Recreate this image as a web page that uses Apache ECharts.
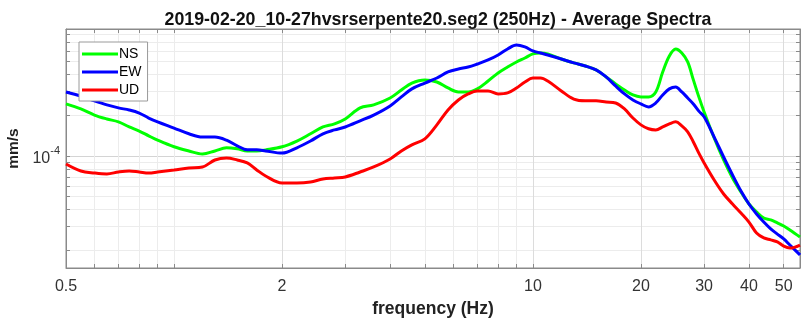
<!DOCTYPE html>
<html>
<head>
<meta charset="utf-8">
<script src="https://cdn.jsdelivr.net/npm/echarts@6/dist/echarts.min.js"></script>
<style>
  html, body { margin: 0; padding: 0; background: #fff; }
  #chart { width: 801px; height: 320px; }
</style>
</head>
<body>
<div id="chart"></div>
<script>
// frequencies (Hz) shared by the three spectra
const freq = [0.5, 0.55, 0.6, 0.65, 0.7, 0.75, 0.8, 0.85, 0.9, 1.0, 1.1, 1.2, 1.3, 1.4, 1.5, 1.6, 1.7, 1.8,
  2.0, 2.2, 2.4, 2.6, 2.8, 3.0, 3.3, 3.6, 4.0, 4.3, 4.6, 5.0, 5.4, 5.8, 6.2, 6.6, 7.0, 7.5, 8, 8.5, 9, 9.5,
  10, 10.5, 11, 12, 13, 14, 15, 16, 17, 18, 19, 20, 21, 22, 23, 24, 25, 26, 27, 28, 29,
  30, 32, 34, 36, 38, 40, 42, 44, 46, 48, 50, 52, 55.5];

// mm/s
const ns = [2.43e-4, 2.23e-4, 2.01e-4, 1.88e-4, 1.79e-4, 1.64e-4, 1.53e-4, 1.41e-4, 1.31e-4, 1.17e-4, 1.09e-4, 1.035e-4,
  1.09e-4, 1.15e-4, 1.13e-4, 1.09e-4, 1.09e-4, 1.11e-4, 1.17e-4, 1.29e-4, 1.46e-4, 1.64e-4, 1.73e-4, 1.88e-4,
  2.27e-4, 2.39e-4, 2.69e-4, 3.08e-4, 3.47e-4, 3.66e-4, 3.53e-4, 3.19e-4, 2.98e-4, 2.98e-4, 3.14e-4, 3.59e-4,
  4.12e-4, 4.56e-4, 4.97e-4, 5.32e-4, 5.70e-4, 5.79e-4, 5.70e-4, 5.23e-4, 4.89e-4, 4.64e-4, 4.34e-4, 3.85e-4,
  3.42e-4, 3.08e-4, 2.83e-4, 2.74e-4, 2.74e-4, 2.98e-4, 4.19e-4, 5.51e-4, 6.20e-4, 5.79e-4, 4.97e-4, 3.66e-4,
  2.74e-4, 2.12e-4, 1.36e-4, 0.934e-4, 0.687e-4, 0.541e-4, 0.441e-4, 0.385e-4, 0.347e-4, 0.336e-4, 0.319e-4,
  0.303e-4, 0.283e-4, 0.251e-4];
const ew = [2.98e-4, 2.78e-4, 2.56e-4, 2.39e-4, 2.27e-4, 2.19e-4, 2.08e-4, 1.91e-4, 1.79e-4, 1.61e-4, 1.46e-4, 1.38e-4,
  1.38e-4, 1.31e-4, 1.19e-4, 1.11e-4, 1.11e-4, 1.09e-4, 1.05e-4, 1.15e-4, 1.29e-4, 1.46e-4, 1.56e-4, 1.64e-4,
  1.82e-4, 2.01e-4, 2.35e-4, 2.74e-4, 3.14e-4, 3.47e-4, 3.78e-4, 4.19e-4, 4.41e-4, 4.56e-4, 4.80e-4, 5.14e-4,
  5.60e-4, 6.20e-4, 6.64e-4, 6.42e-4, 6.00e-4, 5.79e-4, 5.60e-4, 5.23e-4, 4.89e-4, 4.64e-4, 4.34e-4, 3.85e-4,
  3.30e-4, 2.88e-4, 2.60e-4, 2.43e-4, 2.31e-4, 2.47e-4, 2.83e-4, 3.14e-4, 3.24e-4, 2.98e-4, 2.69e-4, 2.43e-4,
  2.15e-4, 1.95e-4, 1.38e-4, 0.983e-4, 0.723e-4, 0.550e-4, 0.441e-4, 0.372e-4, 0.324e-4, 0.288e-4, 0.264e-4,
  0.243e-4, 0.219e-4, 0.185e-4];
const ud = [0.872e-4, 0.774e-4, 0.748e-4, 0.736e-4, 0.761e-4, 0.774e-4, 0.761e-4, 0.748e-4, 0.761e-4, 0.788e-4, 0.815e-4, 0.829e-4,
  0.934e-4, 0.966e-4, 0.934e-4, 0.888e-4, 0.788e-4, 0.711e-4, 0.631e-4, 0.631e-4, 0.642e-4, 0.675e-4, 0.687e-4, 0.699e-4,
  0.761e-4, 0.829e-4, 0.950e-4, 1.09e-4, 1.21e-4, 1.34e-4, 1.70e-4, 2.19e-4, 2.60e-4, 2.88e-4, 3.03e-4, 3.03e-4,
  2.88e-4, 2.93e-4, 3.19e-4, 3.53e-4, 3.78e-4, 3.78e-4, 3.59e-4, 3.03e-4, 2.64e-4, 2.56e-4, 2.56e-4, 2.51e-4,
  2.47e-4, 2.23e-4, 1.91e-4, 1.70e-4, 1.59e-4, 1.56e-4, 1.64e-4, 1.73e-4, 1.79e-4, 1.67e-4, 1.51e-4, 1.27e-4,
  1.05e-4, 0.888e-4, 0.664e-4, 0.523e-4, 0.441e-4, 0.378e-4, 0.324e-4, 0.269e-4, 0.247e-4, 0.239e-4, 0.231e-4,
  0.215e-4, 0.208e-4, 0.219e-4];

// axis ticks
const xTickLabels = [0.5, 2, 10, 20, 30, 40, 50];
const xGridTicks = [0.5, 0.6, 0.7, 0.8, 0.9, 1, 2, 3, 4, 5, 6, 7, 8, 9, 10, 20, 30, 40, 50];
const yTickLabels = [1e-4];
const yGridTicks = [2e-5, 3e-5, 4e-5, 5e-5, 6e-5, 7e-5, 8e-5, 9e-5, 1e-4, 2e-4, 3e-4, 4e-4, 5e-4, 6e-4, 7e-4, 8e-4];

const FONT = '"Liberation Sans", Arial, sans-serif';
const AXIS_COLOR = '#8a8a8a';

function pairs(vals) {
    return freq.map((f, i) => [f, vals[i]]);
}

const xBase = { type: 'log', logBase: 10, min: 0.5, max: 55.5 };
const yBase = { type: 'log', logBase: 10, min: 1.48e-5, max: 8.72e-4 };

const chart = echarts.init(document.getElementById('chart'), null, { renderer: 'canvas' });
chart.setOption({
    animation: false,
    backgroundColor: '#fff',
    title: {
        text: '2019-02-20_10-27hvsrserpente20.seg2 (250Hz) - Average Spectra',
        left: 433, top: 6, textAlign: 'center',
        textStyle: { fontFamily: FONT, fontSize: 17.8, fontWeight: 'bold', color: '#111' }
    },
    grid: { left: 66, right: 1, top: 29, bottom: 52, show: true, borderColor: AXIS_COLOR, borderWidth: 1,
        outerBoundsMode: 'none', containLabel: false },
    legend: {
        orient: 'vertical', left: 79, top: 42,
        padding: [5, 6, 4, 3], itemGap: 4, itemWidth: 36, itemHeight: 3, icon: 'rect',
        backgroundColor: '#fff', borderColor: '#9a9a9a', borderWidth: 1, borderRadius: 0,
        textStyle: { fontFamily: FONT, fontSize: 14, color: '#000', padding: [0, 0, 0, -4] },
        data: ['NS', 'EW', 'UD']
    },
    xAxis: [
        Object.assign({}, xBase, {
            position: 'bottom',
            name: 'frequency (Hz)', nameLocation: 'middle', nameGap: 32,
            nameTextStyle: { fontFamily: FONT, fontSize: 17.5, fontWeight: 'bold', color: '#222' },
            axisLine: { show: true, lineStyle: { color: AXIS_COLOR } },
            axisTick: { show: true, inside: true, length: 4, customValues: xGridTicks, lineStyle: { color: AXIS_COLOR } },
            axisLabel: { customValues: xTickLabels, margin: 11, fontFamily: FONT, fontSize: 16, color: '#333',
                formatter: v => String(v) },
            splitLine: { show: true, lineStyle: { color: '#ececec', width: 1 } }
        }),
        Object.assign({}, xBase, {
            position: 'top',
            axisLine: { show: true, lineStyle: { color: AXIS_COLOR } },
            axisTick: { show: true, inside: true, length: 4, customValues: xGridTicks, lineStyle: { color: AXIS_COLOR } },
            axisLabel: { show: false },
            splitLine: { show: false }
        }),
        Object.assign({}, xBase, {
            position: 'bottom',
            axisLine: { show: false },
            axisTick: { show: false, customValues: xTickLabels },
            axisLabel: { show: false },
            splitLine: { show: true, lineStyle: { color: '#dcdcdc', width: 1 } }
        })
    ],
    yAxis: [
        Object.assign({}, yBase, {
            position: 'left',
            name: 'mm/s', nameLocation: 'middle', nameGap: 41,
            nameTextStyle: { fontFamily: FONT, fontSize: 15.5, fontWeight: 'bold', color: '#222' },
            axisLine: { show: true, lineStyle: { color: AXIS_COLOR } },
            axisTick: { show: true, inside: true, length: 4, customValues: yGridTicks, lineStyle: { color: AXIS_COLOR } },
            axisLabel: {
                customValues: yTickLabels, margin: 6,
                formatter: () => '{a|10}{b|-4}',
                rich: {
                    a: { fontFamily: FONT, fontSize: 16, color: '#333', lineHeight: 22, verticalAlign: 'bottom' },
                    b: { fontFamily: FONT, fontSize: 11, color: '#333', lineHeight: 22, verticalAlign: 'top' }
                }
            },
            splitLine: { show: true, lineStyle: { color: '#ececec', width: 1 } }
        }),
        Object.assign({}, yBase, {
            position: 'right',
            axisLine: { show: true, lineStyle: { color: AXIS_COLOR } },
            axisTick: { show: true, inside: true, length: 4, customValues: yGridTicks, lineStyle: { color: AXIS_COLOR } },
            axisLabel: { show: false },
            splitLine: { show: false }
        }),
        Object.assign({}, yBase, {
            position: 'left',
            axisLine: { show: false },
            axisTick: { show: false, customValues: yTickLabels },
            axisLabel: { show: false },
            splitLine: { show: true, lineStyle: { color: '#d4d4d4', width: 1 } }
        })
    ],
    series: [
        { name: 'NS', type: 'line', data: pairs(ns), color: '#00ff00' },
        { name: 'EW', type: 'line', data: pairs(ew), color: '#0000ff' },
        { name: 'UD', type: 'line', data: pairs(ud), color: '#ff0000' }
    ].map(s => Object.assign(s, {
        xAxisIndex: 0, yAxisIndex: 0,
        showSymbol: false, symbol: 'none', smooth: 0.35,
        lineStyle: { width: 3, color: s.color }
    }))
});
</script>
</body>
</html>
